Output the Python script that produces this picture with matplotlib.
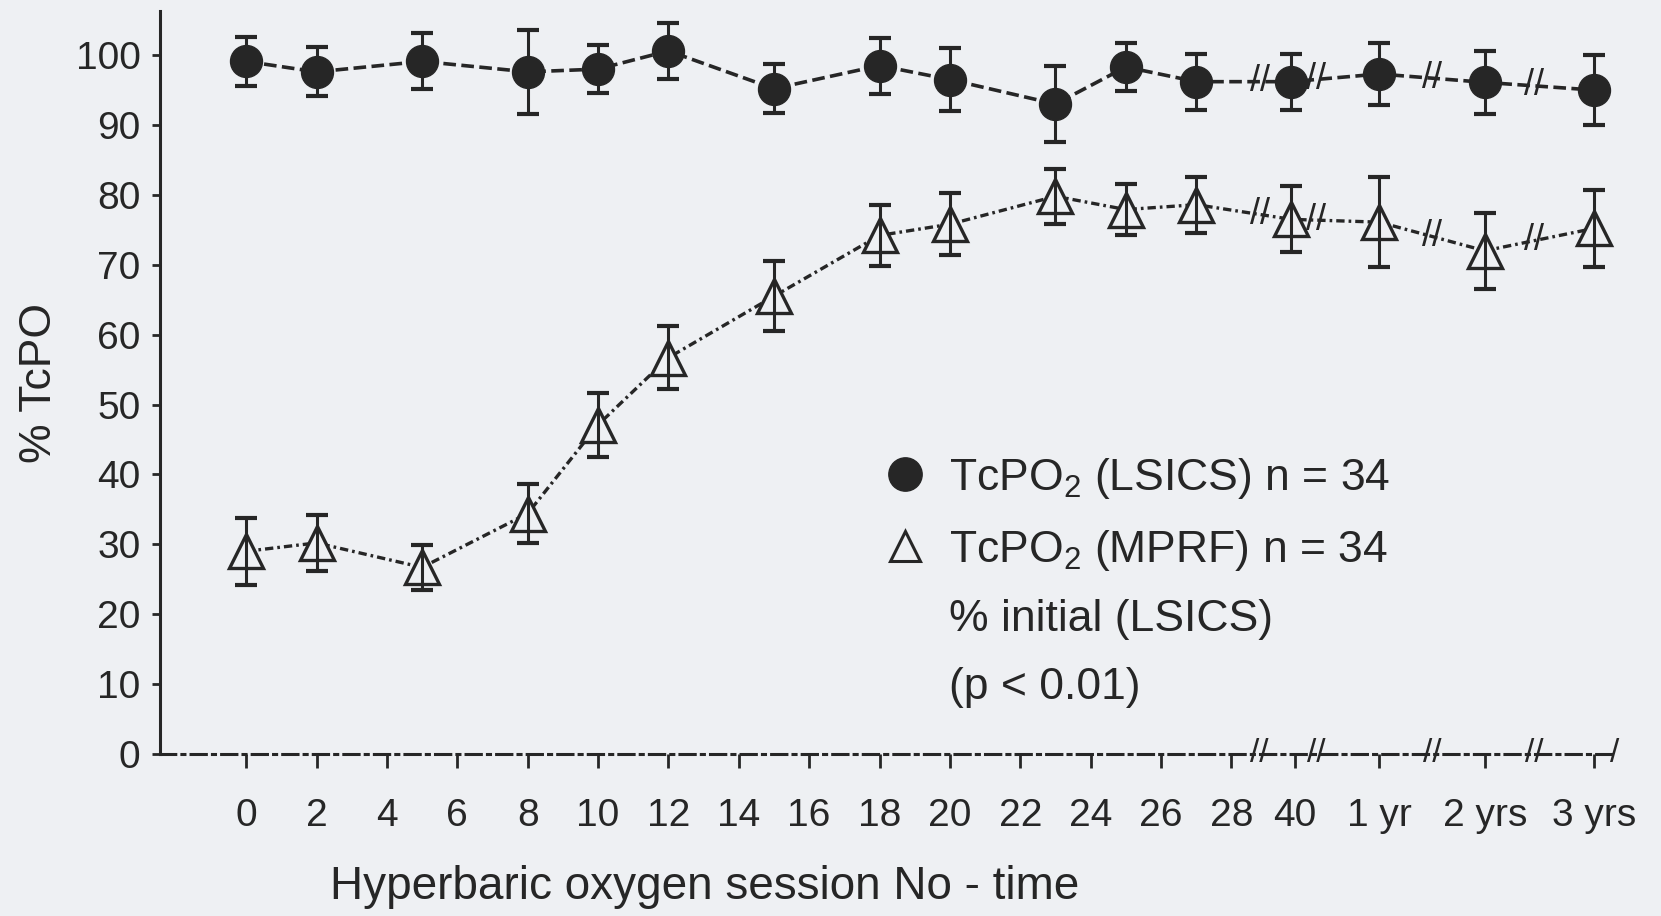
import numpy as np
import matplotlib
matplotlib.use("Agg")
import matplotlib.pyplot as plt
from matplotlib.lines import Line2D

plt.rcParams['font.family'] = ['Liberation Sans', 'DejaVu Sans']
plt.rcParams['mathtext.fontset'] = 'custom'
plt.rcParams['mathtext.rm'] = 'Liberation Sans'

# x positions of the measurements (sessions, then 40 / 1 yr / 2 yrs / 3 yrs after the axis breaks)
x_pts = [0, 2, 5, 8, 10, 12, 15, 18, 20, 23, 25, 27, 29.7, 32.2, 35.2, 38.3]

# filled circles: TcPO2 (LSICS)
lsics = [99.1, 97.6, 99.1, 97.6, 98.0, 100.6, 95.2, 98.5, 96.5, 93.0, 98.3, 96.2, 96.2, 97.3, 96.1, 95.0]
lsics_err = [3.5, 3.5, 4.0, 6.0, 3.4, 4.0, 3.5, 4.0, 4.5, 5.5, 3.5, 4.0, 4.0, 4.5, 4.5, 5.0]

# open triangles: TcPO2 (MPRF)
mprf = [29.0, 30.2, 26.7, 34.4, 47.1, 56.7, 65.5, 74.2, 75.8, 79.8, 77.9, 78.6, 76.5, 76.1, 72.0, 75.2]
mprf_err = [4.8, 4.0, 3.2, 4.2, 4.6, 4.5, 5.0, 4.4, 4.4, 3.9, 3.7, 4.0, 4.7, 6.4, 5.4, 5.5]

# x axis ticks
tick_pos = [0, 2, 4, 6, 8, 10, 12, 14, 16, 18, 20, 22, 24, 26, 28, 29.8, 32.2, 35.2, 38.3]
tick_labels = ['0', '2', '4', '6', '8', '10', '12', '14', '16', '18', '20', '22', '24', '26', '28',
               '40', '1 yr', '2 yrs', '3 yrs']
y_ticks = [0, 10, 20, 30, 40, 50, 60, 70, 80, 90, 100]

# where the axis / lines are broken
breaks = [28.8, 30.4, 33.7, 36.6]

bg = '#eef0f3'
ink = '#262626'

fig = plt.figure(figsize=(16.61, 9.16), dpi=100, facecolor=bg)
ax = fig.add_axes([0.0963, 0.1769, 0.876, 0.811])
ax.set_facecolor(bg)

ax.plot(x_pts, lsics, color=ink, lw=2.6, dashes=(3.5, 1.5), zorder=2)
ax.plot(x_pts, mprf, color=ink, lw=2.4, dashes=(2.5, 1.2, 0.8, 1.2), zorder=2)

ax.errorbar(x_pts, lsics, yerr=lsics_err, fmt='none', ecolor=ink, elinewidth=2.2,
            capsize=8, capthick=3, zorder=3)
ax.errorbar(x_pts, mprf, yerr=mprf_err, fmt='none', ecolor=ink, elinewidth=2.2,
            capsize=8, capthick=3, zorder=3)

ax.plot(x_pts, lsics, ls='none', marker='o', ms=23, mfc=ink, mec=ink, zorder=4)
ax.plot(x_pts, mprf, ls='none', marker='^', ms=24, mfc=bg, mec=ink, mew=2.4, zorder=2.5)

# break marks on both lines and on the x axis
for b in breaks:
    for series in (lsics, mprf):
        ax.text(b, np.interp(b, x_pts, series), '//', fontsize=26, color=ink,
                ha='center', va='center', zorder=5)
    ax.text(b, 0, '//', fontsize=24, color=ink, ha='center', va='center',
            zorder=5, clip_on=False)

ax.set_xlim(-2.45, 38.9)
ax.set_ylim(0, 106.3)
ax.text(38.9, 0, '/', fontsize=24, color=ink, ha='center', va='center', clip_on=False)
ax.set_xticks(tick_pos)
ax.set_xticklabels(tick_labels)
ax.set_yticks(y_ticks)

for s in ('top', 'right'):
    ax.spines[s].set_visible(False)
ax.spines['left'].set_color(ink)
ax.spines['left'].set_linewidth(2.2)
ax.spines['bottom'].set_color(ink)
ax.spines['bottom'].set_linewidth(2.2)
ax.spines['bottom'].set_linestyle((0, (5, 2, 1, 2)))

ax.tick_params(axis='x', direction='out', length=10, width=2, color=ink,
               labelsize=28, labelcolor=ink, pad=22)
ax.tick_params(axis='y', direction='out', length=6, width=2, color=ink,
               labelsize=28, labelcolor=ink, pad=8)

fig.text(0.024, 0.582, '% TcPO', rotation=90, fontsize=32, color=ink,
         ha='center', va='center')
fig.text(0.424, 0.032, 'Hyperbaric oxygen session No - time', fontsize=33,
         color=ink, ha='center', va='center')

handles = [
    Line2D([], [], ls='none', marker='o', ms=24, mfc=ink, mec=ink),
    Line2D([], [], ls='none', marker='^', ms=22, mfc='none', mec=ink, mew=2.2),
    Line2D([], [], ls='none'),
    Line2D([], [], ls='none'),
]
labels = [r'TcPO$_{\mathregular{2}}$ (LSICS) n = 34',
          r'TcPO$_{\mathregular{2}}$ (MPRF) n = 34',
          '% initial (LSICS)',
          '(p < 0.01)']
leg = ax.legend(handles, labels, loc='upper left', bbox_to_anchor=(0.472, 0.455),
                frameon=False, fontsize=32, handlelength=0.8, handletextpad=0.6,
                labelspacing=0.6, labelcolor=ink)

fig.savefig('out.png', dpi=100, facecolor=bg)
